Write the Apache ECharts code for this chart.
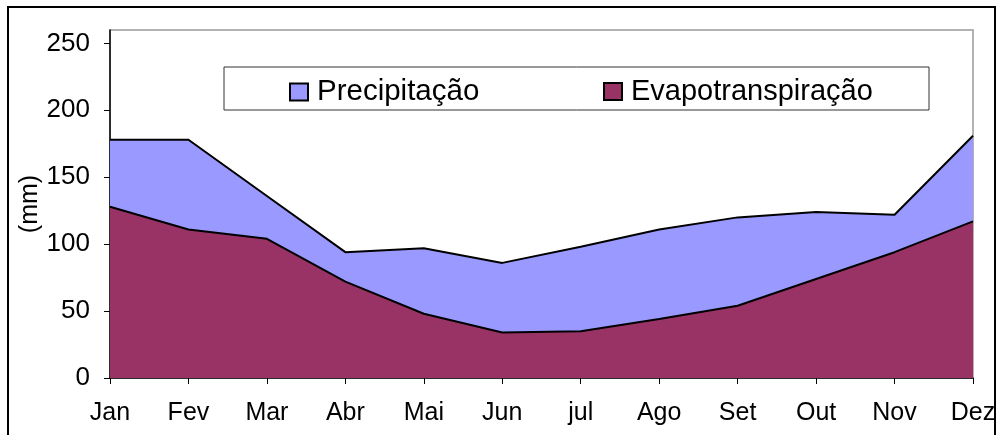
<!DOCTYPE html>
<html>
<head>
<meta charset="utf-8">
<script src="https://cdn.jsdelivr.net/npm/echarts@6/dist/echarts.min.js"></script>
<style>
  html, body { margin: 0; padding: 0; background: #fff; }
  #chart { width: 1000px; height: 435px; }
</style>
</head>
<body>
<div id="chart"></div>
<script>
var meses = ['Jan', 'Fev', 'Mar', 'Abr', 'Mai', 'Jun', 'jul', 'Ago', 'Set', 'Out', 'Nov', 'Dez'];
var precipitacao = [178, 178, 136, 94, 97, 86, 98, 111, 120, 124, 122, 181];
var evapotranspiracao = [128, 111, 104, 72, 48, 34, 35, 44, 54, 74, 94, 117];
var yTicks = [0, 50, 100, 150, 200, 250];

var chart = echarts.init(document.getElementById('chart'));
var fonte = 'Liberation Sans, Arial, sans-serif';

var option = {
  animation: false,
  backgroundColor: '#fff',
  grid: {
    left: 110, top: 30, right: 27, bottom: 57,
    outerBoundsMode: 'none',
    containLabel: false,
    show: true, borderColor: '#999', borderWidth: 1.5, backgroundColor: 'transparent'
  },
  graphic: [
    // moldura externa
    { type: 'rect', shape: { x: 8, y: 7, width: 987, height: 460 },
      style: { fill: 'none', stroke: '#000', lineWidth: 2 }, silent: true },
    // caixa da legenda
    { type: 'rect', shape: { x: 224, y: 67, width: 705, height: 43 },
      style: { fill: '#fff', stroke: '#333', lineWidth: 1 }, z: 5, silent: true }
  ],
  legend: [
    { data: ['Precipitação'], left: 284, top: 72, icon: 'rect', itemWidth: 18, itemHeight: 17, z: 10,
      textStyle: { fontFamily: fonte, fontSize: 29.5, color: '#000', padding: [0, 0, 0, 4] } },
    { data: ['Evapotranspiração'], left: 598, top: 72, icon: 'rect', itemWidth: 18, itemHeight: 17, z: 10,
      textStyle: { fontFamily: fonte, fontSize: 29, color: '#000', padding: [0, 0, 0, 4] } }
  ],
  xAxis: {
    type: 'category',
    data: meses,
    boundaryGap: false,
    axisLine: { lineStyle: { color: '#000', width: 1.5 } },
    axisTick: { show: true, length: 6, alignWithLabel: true, lineStyle: { color: '#000' } },
    axisLabel: { fontFamily: fonte, fontSize: 25, color: '#000', margin: 23, interval: 0 },
    splitLine: { show: false }
  },
  yAxis: {
    type: 'value',
    min: 0, max: 260, interval: 50,
    name: '(mm)',
    nameLocation: 'middle',
    nameGap: 67,
    nameMoveOverlap: false,
    nameRotate: 90,
    nameTextStyle: { fontFamily: fonte, fontSize: 25, color: '#000' },
    axisLine: { show: true, lineStyle: { color: '#000', width: 1.5 } },
    axisTick: { show: true, length: 6, lineStyle: { color: '#000' } },
    axisLabel: {
      fontFamily: fonte, fontSize: 26, color: '#000', margin: 20, showMaxLabel: false,
      formatter: function (v) { return yTicks.indexOf(v) >= 0 ? String(v) : ''; }
    },
    splitLine: { show: false }
  },
  series: [
    {
      name: 'Precipitação',
      type: 'line',
      data: precipitacao,
      symbol: 'none',
      color: '#9999FF',
      lineStyle: { color: '#000', width: 2 },
      areaStyle: { color: '#9999FF', opacity: 1 },
      itemStyle: { color: '#9999FF', borderColor: '#000', borderWidth: 1 }
    },
    {
      name: 'Evapotranspiração',
      type: 'line',
      data: evapotranspiracao,
      symbol: 'none',
      color: '#993366',
      lineStyle: { color: '#000', width: 2 },
      areaStyle: { color: '#993366', opacity: 1 },
      itemStyle: { color: '#993366', borderColor: '#000', borderWidth: 1 }
    }
  ]
};

chart.setOption(option);
</script>
</body>
</html>
